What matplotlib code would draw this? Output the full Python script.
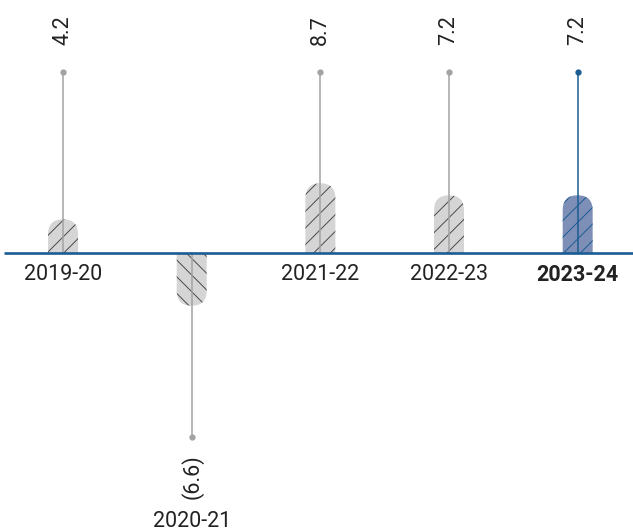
import numpy as np
import matplotlib
matplotlib.use("Agg")
import matplotlib.pyplot as plt
from matplotlib.patches import FancyBboxPatch, Rectangle

years = ["2019-20", "2020-21", "2021-22", "2022-23", "2023-24"]
growth = [4.2, -6.6, 8.7, 7.2, 7.2]
labels = ["4.2", "(6.6)", "8.7", "7.2", "7.2"]
highlight = "2023-24"

plt.rcParams['font.family'] = ['Roboto', 'DejaVu Sans']
plt.rcParams['hatch.linewidth'] = 0.7

fig = plt.figure(figsize=(6.33, 5.31), dpi=100)
ax = fig.add_axes([0, 0, 1, 1])
ax.set_xlim(-0.49, 4.43)
ax.set_ylim(-34.75, 31.6)
ax.axis('off')

blue = '#1b5c93'
grey_line = '#a3a3a3'
w = 0.233
stem = 22.6
fs = 15.5

for i, (yr, v, lab) in enumerate(zip(years, growth, labels)):
    hl = yr == highlight
    fill = '#7d8fb7' if hl else '#d5d5d5'
    hcol = '#1b5c93' if hl else '#4a4a4a'
    lcol = blue if hl else grey_line
    # rounded box mirrored around the baseline, clipped to one side
    box = FancyBboxPatch((i - w / 2, -abs(v)), w, 2 * abs(v),
                         boxstyle="round,pad=0,rounding_size=%f" % (w / 2),
                         mutation_aspect=16.1, facecolor=fill, edgecolor=hcol,
                         linewidth=0, hatch='//' if v > 0 else '\\\\', zorder=2)
    ax.add_patch(box)
    clip = Rectangle((i - w, 0 if v > 0 else v - 1), 2 * w, abs(v) + 1,
                     transform=ax.transData, visible=False)
    ax.add_patch(clip)
    box.set_clip_path(clip)

    top = stem if v > 0 else -23
    ax.plot([i, i], [0, top], color=lcol, lw=1.1, zorder=3)
    ax.plot(i, top, 'o', color=lcol, ms=3.5, zorder=3)

    if v > 0:
        ax.text(i, 26, lab, rotation=90, ha='center', va='bottom',
                fontsize=fs, color='#222222')
        ax.text(i, -1.4, yr, ha='center', va='top', fontsize=fs,
                color='#222222', fontweight='bold' if hl else 'normal')
    else:
        ax.text(i, -25.2, lab, rotation=90, ha='center', va='top',
                fontsize=fs, color='#222222')
        ax.text(i, -33.6, yr, ha='center', va='center', fontsize=fs,
                color='#222222')

ax.plot([-0.46, 4.43], [0, 0], color=blue, lw=1.9, zorder=4,
        solid_capstyle='butt')

fig.savefig('out.png', dpi=100)
